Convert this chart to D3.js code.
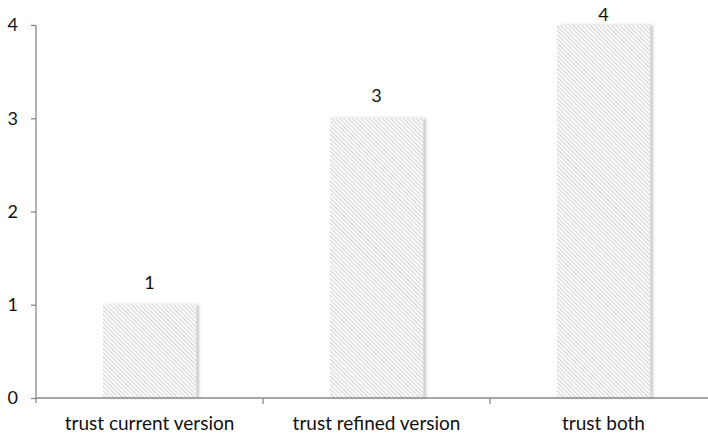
<!DOCTYPE html>
<html>
<head>
<meta charset="utf-8">
<script src="https://cdn.jsdelivr.net/npm/d3@7"></script>
<style>
  html, body { margin: 0; padding: 0; background: #fff; }
  svg { display: block; font-family: Lato, "Open Sans", sans-serif; }
</style>
</head>
<body>
<svg id="chart" width="708" height="436"></svg>
<script>
// Responses by trust preference
const categories = ["trust current version", "trust refined version", "trust both"];
const counts = [1, 3, 4];
const yTicks = [0, 1, 2, 3, 4];

const svg = d3.select("#chart");
const width = 708, height = 436;
const margin = { left: 36, top: 25, bottom: 38 };
const plotRight = 717;
const font = "Lato, 'Open Sans', sans-serif";

const x = d3.scaleBand()
  .domain(categories)
  .range([margin.left, plotRight])
  .paddingInner(0.59)
  .paddingOuter(0.295);

const y = d3.scaleLinear()
  .domain([0, 4])
  .range([height - margin.bottom, margin.top]);

const defs = svg.append("defs");

// diagonal hatch fill
const pat = defs.append("pattern")
  .attr("id", "hatch")
  .attr("patternUnits", "userSpaceOnUse")
  .attr("width", 3)
  .attr("height", 3)
  .attr("patternTransform", "rotate(-45)");
pat.append("rect").attr("width", 3).attr("height", 3).attr("fill", "#fcfcfc");
pat.append("line")
  .attr("x1", 0).attr("y1", 0).attr("x2", 0).attr("y2", 3)
  .attr("stroke", "#bdbdbd").attr("stroke-width", 1.3);

// soft shadow to the right of each bar
const f = defs.append("filter").attr("id", "shadow")
  .attr("x", "-10%").attr("y", "-10%").attr("width", "130%").attr("height", "120%");
f.append("feGaussianBlur").attr("in", "SourceAlpha").attr("stdDeviation", 1.6).attr("result", "b");
f.append("feOffset").attr("in", "b").attr("dx", 2.5).attr("dy", 0).attr("result", "o");
f.append("feComponentTransfer").attr("in", "o").attr("result", "s")
  .append("feFuncA").attr("type", "linear").attr("slope", 0.22);
const m = f.append("feMerge");
m.append("feMergeNode").attr("in", "s");
m.append("feMergeNode").attr("in", "SourceGraphic");

// bars
svg.append("g").selectAll("rect")
  .data(counts)
  .join("rect")
  .attr("x", (d, i) => x(categories[i]))
  .attr("y", d => y(d))
  .attr("width", x.bandwidth())
  .attr("height", d => y(0) - y(d))
  .attr("fill", "url(#hatch)")
  .attr("filter", "url(#shadow)");

// value labels, kept inside the top edge
svg.append("g").selectAll("text")
  .data(counts)
  .join("text")
  .attr("x", (d, i) => x(categories[i]) + x.bandwidth() / 2)
  .attr("y", d => Math.max(y(d) - 16, 21))
  .attr("text-anchor", "middle")
  .attr("font-size", 18)
  .attr("fill", "#111")
  .text(d => d);

// y axis
const yAxis = svg.append("g")
  .attr("transform", `translate(${margin.left},0)`)
  .call(d3.axisLeft(y).tickValues(yTicks).tickFormat(d3.format("d")).tickSize(5).tickPadding(13));
yAxis.select(".domain").attr("stroke", "#888").attr("stroke-width", 1.3)
  .attr("d", `M0,${y(4)}V${y(0) + 5}`);
yAxis.selectAll(".tick line").attr("stroke", "#888").attr("stroke-width", 1.3);
yAxis.selectAll(".tick text").attr("font-size", 18).attr("fill", "#111")
  .attr("font-family", font);

// x axis with boundary ticks between categories
const xg = svg.append("g").attr("transform", `translate(0,${y(0)})`);
xg.append("line")
  .attr("x1", margin.left).attr("x2", width)
  .attr("stroke", "#888").attr("stroke-width", 1.3);
const step = (plotRight - margin.left) / categories.length;
xg.selectAll("line.tk")
  .data(d3.range(1, categories.length))
  .join("line")
  .attr("class", "tk")
  .attr("x1", i => margin.left + i * step).attr("x2", i => margin.left + i * step)
  .attr("y1", 0).attr("y2", 6)
  .attr("stroke", "#888").attr("stroke-width", 1.3);
xg.selectAll("text")
  .data(categories)
  .join("text")
  .attr("x", d => x(d) + x.bandwidth() / 2)
  .attr("y", 32)
  .attr("text-anchor", "middle")
  .attr("font-size", 19)
  .attr("fill", "#111")
  .text(d => d);
</script>
</body>
</html>
